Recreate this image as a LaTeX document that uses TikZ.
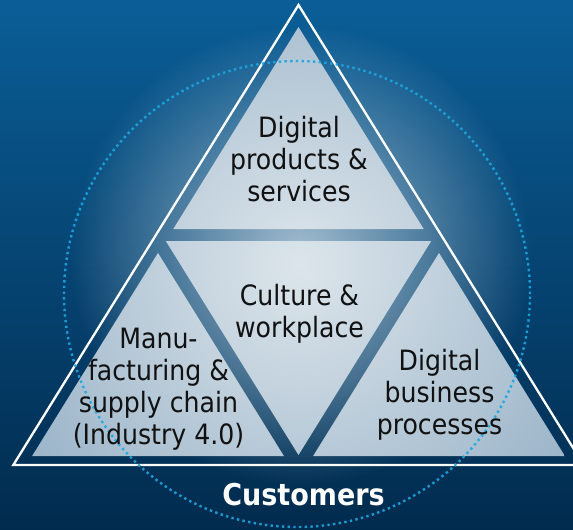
\documentclass[tikz,border=0pt]{standalone}
\usepackage{fontspec}
\setmainfont{DejaVu Sans Condensed}
\usetikzlibrary{fadings}

\definecolor{fundoA}{HTML}{0A5E97}
\definecolor{fundoB}{HTML}{012B4E}
\definecolor{brilho}{HTML}{B5CBDA}
\definecolor{claro}{HTML}{DCE5EB}
\definecolor{escuro}{HTML}{9DB6CA}
\definecolor{pontos}{HTML}{1CA6E2}
\definecolor{texto}{HTML}{111111}

\tikzfading[name=fadebrilho, inner color=transparent!10, outer color=transparent!100]

\begin{document}
\begin{tikzpicture}[x=1pt, y=-1pt,
    every node/.style={align=center, text=texto, inner sep=0pt, font=\fontsize{28}{32}\selectfont}]

  \useasboundingbox (0,0) rectangle (573,530);
  \clip (0,0) rectangle (573,530);

  % 1. Fundo em degradê, com brilho no centro
  \shade[top color=fundoA, bottom color=fundoB] (0,0) rectangle (573,530);
  \fill[brilho, path fading=fadebrilho] (300,255) circle (230pt);

  % 2. Os quatro triângulos claros
  \begin{scope}
    \clip (298.5,27) -- (173.3,229) -- (423.7,229) -- cycle
          (165.8,241) -- (431.2,241) -- (298.5,455) -- cycle
          (158,253) -- (32.1,456) -- (283.9,456) -- cycle
          (439,253) -- (313.1,456) -- (564.9,456) -- cycle;
    \shade[inner color=claro, outer color=escuro] (-20,-55) rectangle (620,585);
  \end{scope}

  % 3. Triângulo externo branco
  \draw[white, line width=2.3pt] (298.5,5) -- (13.3,465) -- (583.7,465) -- cycle;

  % 4. Círculo pontilhado
  \draw[pontos, draw opacity=0.9, line width=2.4pt, dash pattern=on 2.4pt off 3.3pt]
    (297,294) circle (233pt);

  % 5. Textos
  \node (topo) at (299,159.5) {Digital\\products \&\\services};
  \node (centro) at (299.5,314) {Culture \&\\workplace};
  \node (esq) at (158.5,389) {Manu-\\facturing \&\\supply chain\\(Industry 4.0)};
  \node (dir) at (439.5,395) {Digital\\business\\processes};   % base direita

  \node[anchor=base, text=white, font=\fontsize{30}{36}\selectfont\bfseries]
    (clientes) at (303.5,505) {Customers};

\end{tikzpicture}
\end{document}
